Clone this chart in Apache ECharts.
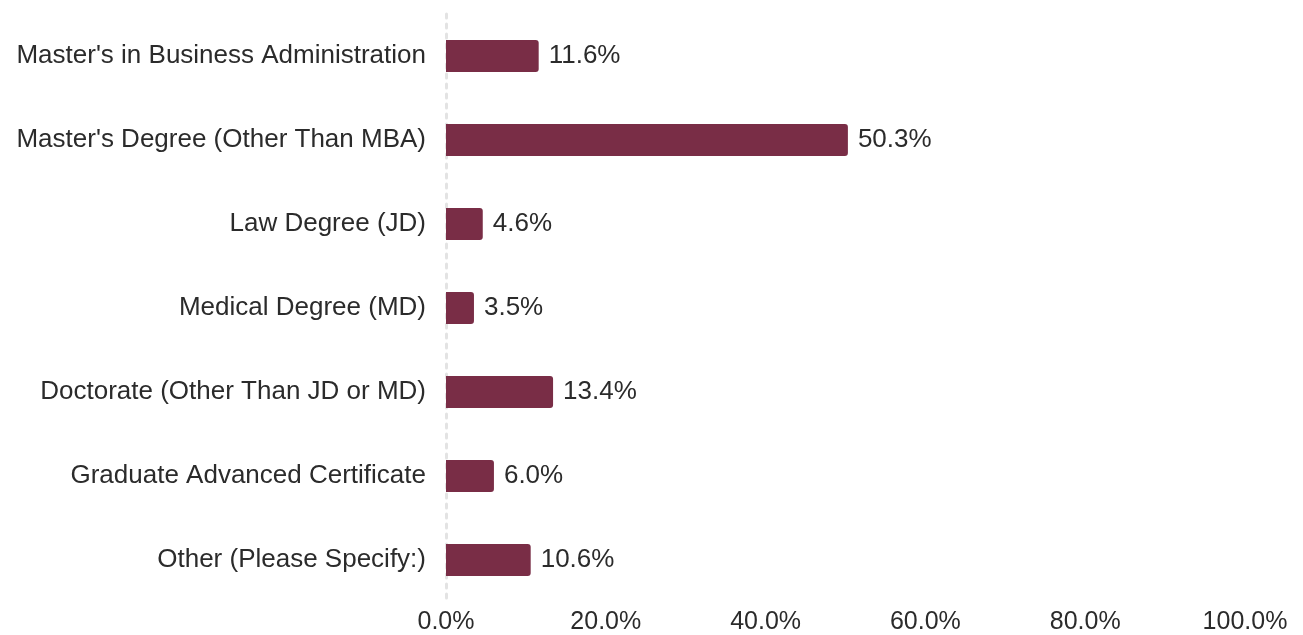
<!DOCTYPE html>
<html>
<head>
<meta charset="utf-8">
<script src="https://cdn.jsdelivr.net/npm/echarts@6/dist/echarts.min.js"></script>
<style>
  html, body { margin: 0; padding: 0; background: #fff; }
  #main { width: 1303px; height: 635px; }
</style>
</head>
<body>
<div id="main"></div>
<script>
// Initialize after dom ready
var chartDegrees = echarts.init(document.getElementById('main'));

var categories = [
    "Master's in Business Administration",
    "Master's Degree (Other Than MBA)",
    'Law Degree (JD)',
    'Medical Degree (MD)',
    'Doctorate (Other Than JD or MD)',
    'Graduate Advanced Certificate',
    'Other (Please Specify:)'
];
var percents = [11.6, 50.3, 4.6, 3.5, 13.4, 6.0, 10.6];
var xTicks = [0, 20, 40, 60, 80, 100];

var option = {
    animation: false,
    textStyle: { fontFamily: "'Liberation Sans', Arial, sans-serif" },
    grid: {
        left: 446,
        right: 58,
        top: 14,
        bottom: 33
    },
    xAxis: {
        type: 'value',
        min: xTicks[0],
        max: xTicks[xTicks.length - 1],
        interval: 20,
        axisLine: { show: false },
        axisTick: { show: false },
        splitLine: { show: false },
        axisLabel: {
            fontSize: 25,
            color: '#2b2b2b',
            margin: 8,
            formatter: function (v) { return v.toFixed(1) + '%'; }
        }
    },
    yAxis: {
        type: 'category',
        inverse: true,
        data: categories,
        axisTick: { show: false },
        axisLine: {
            show: true,
            lineStyle: { color: '#e3e3e3', width: 3, type: [4, 6] }
        },
        axisLabel: {
            fontSize: 26,
            color: '#2b2b2b',
            margin: 20,
            padding: [4, 0, 0, 0]
        }
    },
    series: [
        {
            type: 'bar',
            data: percents,
            barWidth: 32,
            itemStyle: {
                color: '#792d46',
                borderRadius: [0, 3, 3, 0]
            },
            label: {
                show: true,
                position: 'right',
                distance: 10,
                fontSize: 26,
                color: '#2b2b2b',
                padding: [4, 0, 0, 0],
                formatter: function (p) { return p.value.toFixed(1) + '%'; }
            }
        }
    ]
};

// Load data into the ECharts instance
chartDegrees.setOption(option);
</script>
</body>
</html>
